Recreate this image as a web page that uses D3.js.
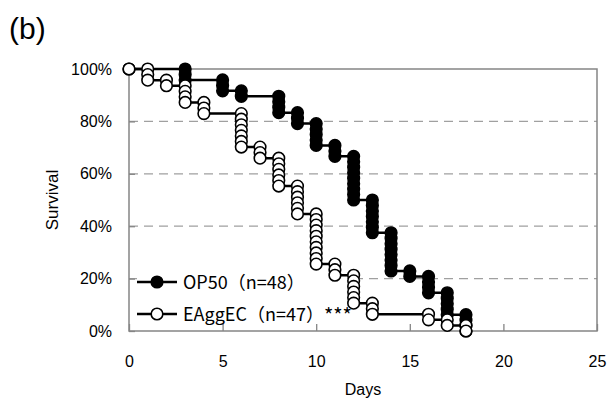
<!DOCTYPE html>
<html>
<head>
<meta charset="utf-8">
<script src="https://cdn.jsdelivr.net/npm/d3@7"></script>
<style>
  body { margin: 0; background: #fff; }
  text { font-family: "Liberation Sans", Arial, sans-serif; fill: #000; }
  .legend text { font-family: "Noto Sans CJK JP", sans-serif; }
</style>
</head>
<body>
<svg id="chart" width="608" height="400"></svg>
<script>
// deaths counted per day
const op50Days = [3, 5, 6, 8, 9, 10, 11, 12, 13, 14, 15, 16, 17, 18];
const op50Deaths = [2, 2, 1, 3, 2, 4, 2, 8, 6, 7, 1, 3, 4, 3];
const op50N = 48;

const eaggDays = [1, 2, 3, 4, 6, 7, 8, 9, 10, 11, 12, 13, 16, 17, 18];
const eaggDeaths = [2, 1, 3, 2, 6, 2, 5, 5, 9, 2, 5, 2, 1, 1, 1];
const eaggN = 47;

const xTicks = [0, 5, 10, 15, 20, 25];
const yTicks = [0, 0.2, 0.4, 0.6, 0.8, 1];
const seriesNames = ["OP50", "EAggEC"];
const legendLabels = ["OP50（n=48）", "EAggEC（n=47）"];
const signif = "***";

// turn death counts into the step points excel plotted (one marker per point)
function stepPoints(days, deaths, n) {
    let pts = [{day: 0, s: 1}];
    let alive = n;
    days.forEach((d, i) => {
        pts.push({day: d, s: alive / n});
        for (let k = 0; k < deaths[i]; k++) {
            alive -= 1;
            pts.push({day: d, s: alive / n});
        }
    });
    return pts;
}

const margin = {top: 69, right: 11, bottom: 69, left: 129};
const width = 608, height = 400;

const svg = d3.select("#chart");

const x = d3.scaleLinear().domain([0, 25]).range([margin.left, width - margin.right]);
const y = d3.scaleLinear().domain([0, 1]).range([height - margin.bottom, margin.top]);

// dashed grid
svg.append("g")
    .selectAll("line")
    .data(yTicks.filter(d => d > 0 && d < 1))
    .join("line")
    .attr("x1", x(0)).attr("x2", x(25))
    .attr("y1", d => y(d)).attr("y2", d => y(d))
    .attr("stroke", "#a0a0a0")
    .attr("stroke-width", 1.3)
    .attr("stroke-dasharray", "9,6");

// legend background hides the grid line
svg.append("rect")
    .attr("x", 137).attr("y", 266)
    .attr("width", 210).attr("height", 60)
    .attr("fill", "#fff");

// plot border
svg.append("rect")
    .attr("x", x(0)).attr("y", y(1))
    .attr("width", x(25) - x(0)).attr("height", y(0) - y(1))
    .attr("fill", "none")
    .attr("stroke", "#858585")
    .attr("stroke-width", 1.5);

// inward ticks
svg.append("g")
    .attr("transform", `translate(0,${y(0)})`)
    .call(d3.axisBottom(x).tickValues(xTicks).tickSizeInner(-7).tickSizeOuter(0).tickPadding(25))
    .call(g => g.select(".domain").remove())
    .call(g => g.selectAll("line").attr("stroke", "#858585").attr("stroke-width", 1.3))
    .call(g => g.selectAll("text").attr("font-size", 16).attr("font-family", "Liberation Sans"));

svg.append("g")
    .attr("transform", `translate(${x(0)},0)`)
    .call(d3.axisLeft(y).tickValues(yTicks).tickFormat(d3.format(".0%")).tickSizeInner(-6).tickSizeOuter(0).tickPadding(17))
    .call(g => g.select(".domain").remove())
    .call(g => g.selectAll("line").attr("stroke", "#858585").attr("stroke-width", 1.3))
    .call(g => g.selectAll("text").attr("font-size", 16).attr("font-family", "Liberation Sans"));

// axis titles
svg.append("text")
    .attr("x", (x(0) + x(25)) / 2)
    .attr("y", 395)
    .attr("text-anchor", "middle")
    .attr("font-size", 16)
    .text("Days");

svg.append("text")
    .attr("transform", `translate(58,${(y(0) + y(1)) / 2}) rotate(-90)`)
    .attr("text-anchor", "middle")
    .attr("font-size", 17)
    .text("Survival");

svg.append("text")
    .attr("x", 9).attr("y", 39)
    .attr("font-size", 30)
    .text("(b)");

const line = d3.line().x(d => x(d.day)).y(d => y(d.s));

const series = [
    {name: seriesNames[0], pts: stepPoints(op50Days, op50Deaths, op50N), fill: "#000"},
    {name: seriesNames[1], pts: stepPoints(eaggDays, eaggDeaths, eaggN), fill: "#fff"}
];

series.forEach(sr => {
    let g = svg.append("g");
    g.append("path")
        .datum(sr.pts)
        .attr("d", line)
        .attr("fill", "none")
        .attr("stroke", "#000")
        .attr("stroke-width", 2.5);
    g.selectAll("circle")
        .data(sr.pts)
        .join("circle")
        .attr("cx", d => x(d.day))
        .attr("cy", d => y(d.s))
        .attr("r", 5.8)
        .attr("fill", sr.fill)
        .attr("stroke", "#000")
        .attr("stroke-width", 1.6);
});

// legend
const legend = svg.append("g").attr("class", "legend");
const rowY = [282, 314];
series.forEach((sr, i) => {
    legend.append("line")
        .attr("x1", 137).attr("x2", 177)
        .attr("y1", rowY[i]).attr("y2", rowY[i])
        .attr("stroke", "#000").attr("stroke-width", 2.5);
    legend.append("circle")
        .attr("cx", 157).attr("cy", rowY[i]).attr("r", 5.8)
        .attr("fill", sr.fill).attr("stroke", "#000").attr("stroke-width", 1.6);
    let t = legend.append("text")
        .attr("x", 183).attr("y", rowY[i] + 6.5)
        .attr("font-size", 18)
        .text(legendLabels[i]);
    if (i === 1) {
        let endX = 183 + t.node().getComputedTextLength();
        legend.append("text")
            .attr("x", endX).attr("y", rowY[i] + 9)
            .attr("font-size", 20)
            .text(signif);
    }
});
</script>
</body>
</html>
